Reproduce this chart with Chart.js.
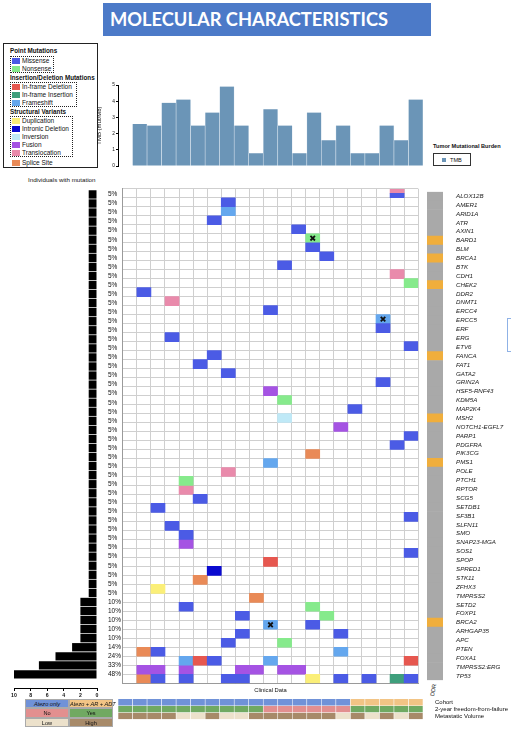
<!DOCTYPE html>
<html>
<head>
<meta charset="utf-8">
<script src="https://cdn.jsdelivr.net/npm/chart.js@4.4.1/dist/chart.umd.min.js"></script>
<style>
  body { margin: 0; background: #fff; width: 511px; height: 734px; position: relative; overflow: hidden;
         font-family: 'Liberation Sans', Arial, sans-serif; color: #111; }
  canvas, .abs { position: absolute; }
  #title { left: 103px; top: 3px; width: 328px; height: 33px; background: #4c7ac8; color: #fff;
           font: bold 18.3px Lato, sans-serif; line-height: 33px; padding-left: 7px; box-sizing: border-box; }
  #legendBox { left: 3px; top: 43px; width: 95px; height: 125px; border: 1px solid #222; box-sizing: border-box; }
  .lgHead { font-weight: bold; font-size: 6.3px; white-space: nowrap; }
  .lgItem { font-size: 6.5px; white-space: nowrap; }
  .sw { width: 8px; height: 6px; }
  .dots { border: 1px dotted #222; box-sizing: border-box; }
  .small { font-size: 6px; white-space: nowrap; }
  .cell { width: 44px; height: 9.33px; font-size: 5.6px; text-align: center; line-height: 9.33px;
          box-sizing: border-box; border: 0.5px solid #aaa; white-space: nowrap; }
</style>
</head>
<body>
<div id="title" class="abs">MOLECULAR CHARACTERISTICS</div>
<div id="legendBox" class="abs"></div>
<div class="abs small" style="left:28px;top:176px;font-size:6.2px;">Individuals with mutation</div>
<div class="abs" style="left:433px;top:143px;font-size:5.6px;font-weight:bold;white-space:nowrap;">Tumor Mutational Burden</div>
<div class="abs" style="left:433px;top:153px;width:38px;height:13px;border:1px solid #333;box-sizing:border-box;"></div>
<div class="abs" style="left:442px;top:158px;width:4px;height:4px;background:#6b95b7;"></div>
<div class="abs small" style="left:450px;top:157px;font-size:5.6px;">TMB</div>
<div class="abs small" style="left:427px;top:687px;font-size:5.6px;transform:rotate(-80deg);transform-origin:center;">DDR</div>
<div class="abs" style="left:507px;top:318px;width:6px;height:34px;border:1.5px solid #8fb2e6;box-sizing:border-box;"></div>

<canvas id="tmb" width="327" height="92" style="left:96px;top:78px;"></canvas>
<canvas id="left" width="125" height="519" style="left:0px;top:183px;"></canvas>
<canvas id="grid" width="307" height="506" style="left:117px;top:183px;"></canvas>
<canvas id="ddr" width="85" height="506" style="left:426px;top:183px;"></canvas>
<canvas id="clin" width="394" height="40" style="left:117px;top:687px;"></canvas>

<script>
// ---- data ----
const samples = ['P1','P2','P3','P4','P5','P6','P7','P8','P9','P10','P11','P12','P13','P14','P15','P16','P17','P18','P19','P20','P21'];
const tmb = [0, 2.6, 2.5, 3.9, 4.1, 2.5, 3.3, 4.9, 2.5, 0.8, 3.5, 2.5, 0.8, 3.3, 1.6, 2.5, 0.8, 0.8, 2.5, 1.6, 4.1];

const genes = ['ALOX12B','AMER1','ARID1A','ATR','AXIN1','BARD1','BLM','BRCA1','BTK','CDH1','CHEK2','DDR2','DNMT1',
  'ERCC4','ERCC5','ERF','ERG','ETV6','FANCA','FAT1','GATA2','GRIN2A','HSF5-RNF43','KDM5A','MAP2K4','MSH2',
  'NOTCH1-EGFL7','PARP1','PDGFRA','PIK3CG','PMS1','POLE','PTCH1','RPTOR','SCG5','SETDB1','SF3B1','SLFN11','SMO',
  'SNAP23-MGA','SOS1','SPOP','SPRED1','STK11','ZFHX3','TMPRSS2','SETD2','FOXP1','BRCA2','ARHGAP35','APC','PTEN',
  'FOXA1','TMPRSS2:ERG','TP53'];
const mutCounts = [1,1,1,1,1,1,1,1,1,1,1,1,1,1,1,1,1,1,1,1,1,1,1,1,1,1,1,1,1,1,1,1,1,1,1,1,1,1,1,1,1,1,1,1,1,
  2,2,2,2,2,3,5,7,10];
const pctLabels = genes.map((g, i) => i < 45 ? '5%' : ['10%','10%','10%','10%','10%','14%','24%','33%','48%'][i - 45]);
const ddrGenes = ['BARD1','BRCA1','CHEK2','FANCA','MSH2','PMS1','BRCA2'];

// [gene, sample index, type]
const mutations = [
  ['ALOX12B',19,'Translocation'], ['ALOX12B',19,'Missense'],
  ['AMER1',7,'Missense'], ['ARID1A',7,'Frameshift'], ['ATR',6,'Missense'], ['AXIN1',12,'Missense'],
  ['BARD1',13,'Nonsense'], ['BLM',13,'Missense'], ['BRCA1',14,'Missense'], ['BTK',11,'Missense'],
  ['CDH1',19,'Translocation'], ['CHEK2',20,'Nonsense'], ['DDR2',1,'Missense'], ['DNMT1',3,'Translocation'],
  ['ERCC4',10,'Missense'], ['ERCC5',18,'Frameshift'], ['ERF',18,'Missense'], ['ERG',3,'Missense'],
  ['ETV6',20,'Missense'], ['FANCA',6,'Missense'], ['FAT1',5,'Missense'], ['GATA2',7,'Missense'],
  ['GRIN2A',18,'Missense'], ['HSF5-RNF43',10,'Fusion'], ['KDM5A',11,'Nonsense'], ['MAP2K4',16,'Missense'],
  ['MSH2',11,'Inversion'], ['NOTCH1-EGFL7',15,'Fusion'], ['PARP1',20,'Missense'], ['PDGFRA',19,'Missense'],
  ['PIK3CG',13,'Splice Site'], ['PMS1',10,'Frameshift'], ['POLE',7,'Translocation'], ['PTCH1',4,'Nonsense'],
  ['RPTOR',4,'Translocation'], ['SCG5',5,'Missense'], ['SETDB1',2,'Missense'], ['SF3B1',20,'Missense'],
  ['SLFN11',3,'Missense'], ['SMO',4,'Missense'], ['SNAP23-MGA',4,'Fusion'], ['SOS1',20,'Missense'],
  ['SPOP',10,'In-frame Deletion'], ['SPRED1',6,'Intronic Deletion'], ['STK11',5,'Splice Site'],
  ['ZFHX3',2,'Duplication'], ['TMPRSS2',9,'Splice Site'],
  ['SETD2',4,'Missense'], ['SETD2',13,'Nonsense'],
  ['FOXP1',8,'Missense'], ['FOXP1',14,'Nonsense'],
  ['BRCA2',10,'Frameshift'], ['BRCA2',13,'Missense'],
  ['ARHGAP35',8,'Missense'], ['ARHGAP35',15,'Missense'],
  ['APC',7,'Missense'], ['APC',11,'Nonsense'],
  ['PTEN',1,'Splice Site'], ['PTEN',2,'Missense'], ['PTEN',15,'Frameshift'],
  ['FOXA1',4,'Frameshift'], ['FOXA1',5,'In-frame Deletion'], ['FOXA1',6,'Missense'], ['FOXA1',10,'Frameshift'], ['FOXA1',20,'In-frame Deletion'],
  ['TMPRSS2:ERG',1,'Fusion'], ['TMPRSS2:ERG',2,'Fusion'], ['TMPRSS2:ERG',4,'Fusion'], ['TMPRSS2:ERG',8,'Fusion'],
  ['TMPRSS2:ERG',9,'Fusion'], ['TMPRSS2:ERG',11,'Fusion'], ['TMPRSS2:ERG',12,'Fusion'],
  ['TP53',1,'Splice Site'], ['TP53',2,'Missense'], ['TP53',4,'Missense'], ['TP53',7,'Missense'], ['TP53',8,'Missense'],
  ['TP53',13,'Duplication'], ['TP53',15,'Missense'], ['TP53',17,'Missense'], ['TP53',19,'In-frame Insertion'], ['TP53',20,'Missense']
];
const crossed = [['BARD1',13], ['ERCC5',18], ['BRCA2',10]];

const clinRows = ['Cohort', '2-year freedom-from-failure', 'Metastatic Volume'];
const cohort = ['A','A','A','A','A','A','A','A','A','A','A','A','A','A','A','A','B','B','B','B','B'];
const ffs = ['Yes','Yes','Yes','Yes','Yes','Yes','Yes','Yes','Yes','Yes','No','No','No','No','No','No','Yes','Yes','Yes','Yes','Yes'];
const metVol = ['High','High','High','High','Low','Low','High','Low','Low','High','High','High','High','High','High','Low','High','Low','High','Low','High'];

// ---- styles ----
const mutTypes = ['Missense','Nonsense','In-frame Deletion','In-frame Insertion','Frameshift','Duplication',
  'Intronic Deletion','Inversion','Fusion','Translocation','Splice Site'];
const mutColors = {
  'Missense': '#4b5be5', 'Nonsense': '#86ea8c', 'In-frame Deletion': '#e6574f', 'In-frame Insertion': '#3f9f7c',
  'Frameshift': '#64a7ee', 'Duplication': '#fbef78', 'Intronic Deletion': '#0a0ad0', 'Inversion': '#bfe9f7',
  'Fusion': '#a553e3', 'Translocation': '#e98aab', 'Splice Site': '#e98a57'
};
const clinColors = { A: '#7092d8', B: '#f2c485', Yes: '#70a962', No: '#e28f8f', Low: '#ece1cb', High: '#a78a69' };

// ---- legend (html) ----
const legendGroups = [
  { title: 'Point Mutations', top: 47, box: [10, 56, 44, 17], items: ['Missense', 'Nonsense'], first: 58 },
  { title: 'Insertion/Deletion Mutations', top: 74, box: [10, 82, 67, 25], items: ['In-frame Deletion', 'In-frame Insertion', 'Frameshift'], first: 84 },
  { title: 'Structural Variants', top: 108, box: [10, 116, 63, 41], items: ['Duplication', 'Intronic Deletion', 'Inversion', 'Fusion', 'Translocation'], first: 118 },
  { title: null, top: 0, box: null, items: ['Splice Site'], first: 160 }
];
function addDiv(cls, css, text) {
  const d = document.createElement('div');
  d.className = 'abs ' + cls;
  d.style.cssText = css;
  if (text) d.textContent = text;
  document.body.appendChild(d);
  return d;
}
legendGroups.forEach(g => {
  if (g.title) addDiv('lgHead', `left:10px;top:${g.top}px;`, g.title);
  if (g.box) addDiv('dots', `left:${g.box[0]}px;top:${g.box[1]}px;width:${g.box[2]}px;height:${g.box[3]}px;`);
  g.items.forEach((it, i) => {
    const y = g.first + i * 8;
    addDiv('sw', `left:12px;top:${y}px;background:${mutColors[it]};`);
    addDiv('lgItem', `left:22px;top:${y - 1}px;`, it);
  });
});

// clinical legend table
const clinLegend = [
  [['Atezo only', 'A'], ['Atezo + AR + ADT', 'B']],
  [['No', 'No'], ['Yes', 'Yes']],
  [['Low', 'Low'], ['High', 'High']]
];
clinLegend.forEach((row, r) => row.forEach((c, k) => {
  const d = addDiv('cell', `left:${25 + k * 44}px;top:${699 + r * 9.33}px;background:${clinColors[c[1]]};`, c[0]);
  if (r === 0) d.style.fontStyle = 'italic';
}));

// ---- charts ----
Chart.defaults.font.family = "'Liberation Sans', Arial, sans-serif";
Chart.defaults.color = '#111';
Chart.defaults.animation = false;
Chart.defaults.responsive = false;
Chart.defaults.plugins.legend.display = false;
Chart.defaults.plugins.tooltip.enabled = false;

const nRows = genes.length;
const rowTicks = s => { s.ticks = Array.from({ length: nRows + 1 }, (_, i) => ({ value: i })); };

// TMB bars
new Chart(document.getElementById('tmb'), {
  type: 'bar',
  data: { labels: samples, datasets: [{ data: tmb, backgroundColor: '#6b95b7', borderColor: '#d9e5ef',
    borderWidth: { left: 0.6, right: 0.6, top: 0, bottom: 0 }, barPercentage: 1, categoryPercentage: 1 }] },
  options: {
    layout: { padding: { top: 7 } },
    scales: {
      x: { display: false },
      y: { min: 0, max: 5, ticks: { stepSize: 1, font: { size: 4.8 }, padding: 1 },
           grid: { drawOnChartArea: false, tickLength: 2, color: '#000' }, border: { color: '#000' },
           title: { display: true, text: 'TMB (mut/Mb)', font: { size: 6 }, padding: 0 },
           afterFit: s => { s.width = 22; } }
    }
  }
});

// individuals with mutation
new Chart(document.getElementById('left'), {
  type: 'bar',
  data: { labels: genes, datasets: [{ data: mutCounts, backgroundColor: '#000', barPercentage: 1, categoryPercentage: 0.92 }] },
  options: {
    indexAxis: 'y',
    layout: { padding: { top: 1, left: 14 } },
    scales: {
      x: { min: 0, max: 10, reverse: true, ticks: { stepSize: 2, font: { size: 5.2, weight: 'bold' }, padding: 1 },
           grid: { drawOnChartArea: false, tickLength: 3, color: '#000' }, border: { color: '#000' },
           afterFit: s => { s.height = 14; } },
      y: { display: false },
      p: { type: 'category', labels: pctLabels, position: 'right', offset: true, grid: { display: false },
           border: { display: false }, ticks: { autoSkip: false, padding: 3, font: { size: 6.5 } },
           afterFit: s => { s.width = 28; } }
    }
  }
});

// oncoprint grid
const cells = {};
mutations.forEach(m => { const k = m[0] + '|' + m[1]; (cells[k] = cells[k] || []).push(m); });
const byType = {};
mutTypes.forEach(t => { byType[t] = []; });
Object.values(cells).forEach(list => list.forEach((m, j) => {
  const r = genes.indexOf(m[0]), h = 1 / list.length;
  byType[m[2]].push({ x: samples[m[1]], y: [r + j * h, r + (j + 1) * h] });
}));
const gridSets = mutTypes.map(t => ({ label: t, data: byType[t], backgroundColor: mutColors[t],
  grouped: false, barPercentage: 1, categoryPercentage: 1, borderWidth: 0, order: 2 }));
gridSets.push({ type: 'line', showLine: false, order: 1,
  data: crossed.map(c => ({ x: samples[c[1]], y: genes.indexOf(c[0]) + 0.5 })),
  pointStyle: 'crossRot', pointRadius: 3.2, pointBorderColor: '#111', pointBorderWidth: 1.8,
  borderColor: '#111', backgroundColor: '#111' });

new Chart(document.getElementById('grid'), {
  type: 'bar',
  data: { labels: samples, datasets: gridSets },
  options: {
    layout: { padding: 1 },
    scales: {
      x: { grid: { color: '#cfcfcf', drawTicks: false, offset: true }, ticks: { display: false, autoSkip: false },
           border: { color: '#9a9a9a' }, afterFit: s => { s.height = 0; } },
      y: { min: 0, max: nRows, reverse: true, grid: { color: '#cfcfcf', drawTicks: false },
           ticks: { display: false }, border: { color: '#9a9a9a' }, afterBuildTicks: rowTicks,
           afterFit: s => { s.width = 0; } }
    }
  }
});

// DDR column + gene names
new Chart(document.getElementById('ddr'), {
  type: 'bar',
  data: { labels: ['DDR'], datasets: [{ data: genes.map((g, i) => ({ x: 'DDR', y: [i, i + 1] })),
    backgroundColor: genes.map(g => ddrGenes.includes(g) ? '#f0ae3c' : '#a9a9a9'), barPercentage: 1, categoryPercentage: 1 }] },
  options: {
    layout: { padding: { top: 1, left: 1 } },
    scales: {
      x: { display: false },
      y: { display: false, min: 0, max: nRows, reverse: true },
      g: { type: 'category', labels: genes, position: 'right', offset: true, grid: { display: false },
           border: { display: false }, ticks: { autoSkip: false, padding: 5, font: { size: 6.2, style: 'italic' }, color: '#1a1a1a' },
           afterFit: s => { s.width = 68; } }
    }
  }
});

// clinical data
const clinSet = (vals, k) => ({ data: samples.map(s => ({ x: s, y: [k, k + 1] })),
  backgroundColor: vals.map(v => clinColors[v]), borderColor: 'rgba(255,255,255,0.45)', borderWidth: 0.6,
  grouped: false, barPercentage: 1, categoryPercentage: 1 });
new Chart(document.getElementById('clin'), {
  type: 'bar',
  data: { labels: samples, datasets: [clinSet(cohort, 0), clinSet(ffs, 1), clinSet(metVol, 2)] },
  options: {
    layout: { padding: { left: 1, bottom: 1 } },
    plugins: { title: { display: true, text: 'Clinical Data', fullSize: false, font: { size: 5.8, weight: 'normal' },
                        padding: { top: 0, bottom: 5 }, color: '#111' } },
    scales: {
      x: { display: false },
      y: { display: false, min: 0, max: 3, reverse: true },
      r: { type: 'category', labels: clinRows, position: 'right', offset: true, grid: { display: false },
           border: { display: false }, ticks: { autoSkip: false, padding: 4, font: { size: 6 } },
           afterFit: s => { s.width = 88; } }
    }
  }
});
</script>
</body>
</html>
